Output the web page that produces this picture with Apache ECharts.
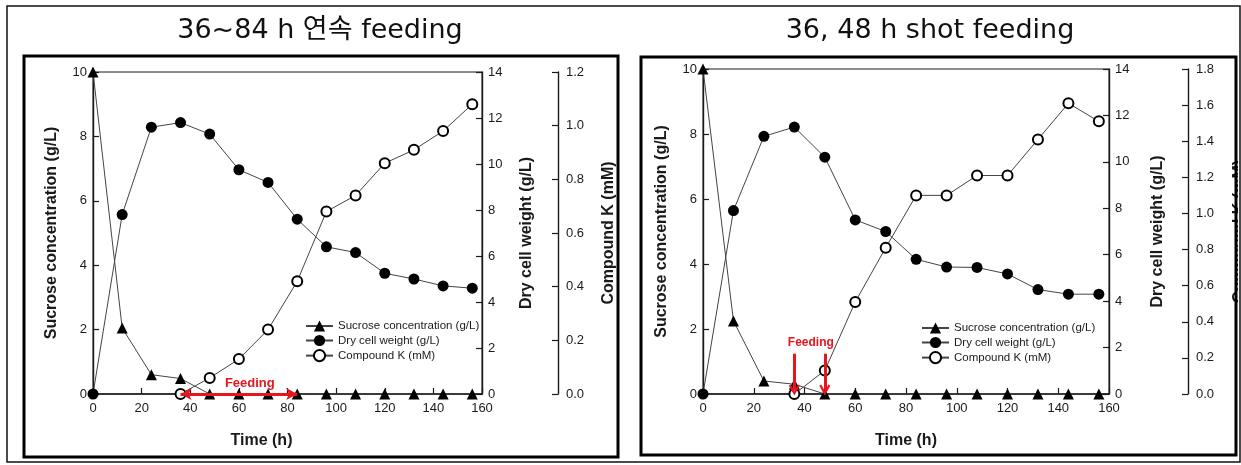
<!DOCTYPE html>
<html>
<head>
<meta charset="utf-8">
<script src="https://cdn.jsdelivr.net/npm/echarts@6/dist/echarts.min.js"></script>
<style>
  html, body { margin: 0; padding: 0; background: #fff; }
  #chart { width: 1241px; height: 465px; }
</style>
</head>
<body>
<div id="chart"></div>
<script>
// Sampling times (h)
const hours = [0, 12, 24, 36, 48, 60, 72, 84, 96, 108, 120, 132, 144, 156];

// 36~84 h continuous feeding
const sucroseCont   = [10, 2.05, 0.6, 0.48, 0, 0, 0, 0, 0, 0, 0, 0, 0, 0];
const dryCellCont   = [0, 7.8, 11.6, 11.8, 11.3, 9.75, 9.2, 7.6, 6.4, 6.15, 5.25, 5.0, 4.7, 4.6];
const compoundKCont = [null, null, null, 0, 0.06, 0.13, 0.24, 0.42, 0.68, 0.74, 0.86, 0.91, 0.98, 1.08];

// 36, 48 h shot feeding
const sucroseShot   = [10, 2.25, 0.4, 0.3, 0, 0, 0, 0, 0, 0, 0, 0, 0, 0];
const dryCellShot   = [0, 7.9, 11.1, 11.5, 10.2, 7.5, 7.0, 5.8, 5.47, 5.45, 5.17, 4.5, 4.3, 4.3];
const compoundKShot = [null, null, null, 0, 0.13, 0.51, 0.81, 1.1, 1.1, 1.21, 1.21, 1.41, 1.61, 1.51];

// Axis ranges [min, max, step]
const timeRange          = [0, 160, 20];
const sucroseRange       = [0, 10, 2];
const dryCellRange       = [0, 14, 2];
const compoundKContRange = [0, 1.2, 0.2];
const compoundKShotRange = [0, 1.8, 0.2];

// Feeding periods
const continuousFeed = [36, 84];
const shotFeeds = [36, 48];

const titles = ['36~84 h 연속 feeding', '36, 48 h shot feeding'];
const names = {
  sucrose: 'Sucrose concentration (g/L)',
  dryCell: 'Dry cell weight (g/L)',
  compoundK: 'Compound K (mM)',
  time: 'Time (h)'
};

const FONT = '"Liberation Sans", Arial, sans-serif';
const RED = '#e5161d';
const INK = '#1a1a1a';

function pairs(values) {
  const out = [];
  hours.forEach((h, i) => { if (values[i] !== null) out.push([h, values[i]]); });
  return out;
}

function xAxisFor(gridIndex, namePad) {
  return {
    type: 'value', gridIndex: gridIndex,
    min: timeRange[0], max: timeRange[1], interval: timeRange[2],
    name: names.time, nameLocation: 'middle', nameGap: 39,
    nameTextStyle: { fontFamily: FONT, fontWeight: 'bold', fontSize: 16, color: INK, padding: namePad },
    axisLine: { show: true, onZero: false, lineStyle: { color: INK, width: 1.6 } },
    axisTick: { show: true, inside: true, length: 6, lineStyle: { color: INK, width: 1.2 } },
    axisLabel: { fontFamily: FONT, fontSize: 13, color: INK, margin: 8 },
    splitLine: { show: false }
  };
}

function yAxisFor(gridIndex, range, opts) {
  return Object.assign({
    type: 'value', gridIndex: gridIndex,
    min: range[0], max: range[1], interval: range[2],
    nameLocation: 'middle', nameRotate: 90,
    nameTextStyle: { fontFamily: FONT, fontWeight: 'bold', fontSize: 16, color: INK },
    axisLine: { show: true, onZero: false, lineStyle: { color: INK, width: 1.4 } },
    axisTick: { show: true, inside: true, length: 6, lineStyle: { color: INK, width: 1.2 } },
    axisLabel: { fontFamily: FONT, fontSize: 13, color: INK, margin: 6 },
    splitLine: { show: false }
  }, opts);
}

const lineStyle = { color: '#444', width: 1 };

function seriesFor(name, values, xi, yi, symbol, size, extra) {
  return Object.assign({
    name: name, type: 'line', xAxisIndex: xi, yAxisIndex: yi,
    data: pairs(values),
    symbol: symbol, symbolSize: size,
    lineStyle: lineStyle,
    itemStyle: { color: '#000', borderColor: '#000', borderWidth: symbol === 'emptyCircle' ? 1.2 : 0 },
    emphasis: { disabled: true },
    animation: false
  }, extra || {});
}

// upward-pointing open chevron, rotated along the arrow by markLine
const chevron = 'path://M5,0 L10,9 L8.3,10 L5,4.4 L1.7,10 L0,9 Z';

const legendNames = ['Sucrose concentration (g/L)', 'Dry cell weight (g/L)', 'Compound K (mM)'];

const legendBase = {
  orient: 'vertical', padding: 0, itemWidth: 27, itemHeight: 14, itemGap: 2.5,
  selectedMode: false, data: legendNames,
  textStyle: { fontFamily: FONT, fontSize: 11.5, color: INK, padding: [0, 0, 0, 0] }
};

const kLabel = { fontFamily: FONT, fontSize: 13, color: INK, margin: 8, formatter: v => v.toFixed(1) };

const gridBase = { show: true, borderColor: INK, borderWidth: 1, backgroundColor: 'transparent',
  containLabel: false, outerBoundsMode: 'none' };

const option = {
  backgroundColor: '#fff',
  animation: false,
  grid: [
    Object.assign({ left: 93, top: 72, width: 389, height: 322 }, gridBase),
    Object.assign({ left: 703, top: 69, width: 406, height: 325 }, gridBase)
  ],
  legend: [
    Object.assign({ left: 305, top: 320 }, legendBase),
    Object.assign({ left: 921, top: 322 }, legendBase)
  ],
  xAxis: [xAxisFor(0, [0, 52, 0, 0]), xAxisFor(1, [0, 0, 0, 0])],
  yAxis: [
    yAxisFor(0, sucroseRange, { position: 'left', name: names.sucrose, nameGap: 33 }),
    yAxisFor(0, dryCellRange, { position: 'right', name: names.dryCell, nameGap: 37 }),
    yAxisFor(0, compoundKContRange, { position: 'right', offset: 76, name: names.compoundK, nameGap: 43, axisLabel: kLabel }),
    yAxisFor(1, sucroseRange, { position: 'left', name: names.sucrose, nameGap: 33 }),
    yAxisFor(1, dryCellRange, { position: 'right', name: names.dryCell, nameGap: 41 }),
    yAxisFor(1, compoundKShotRange, { position: 'right', offset: 79, name: names.compoundK, nameGap: 44, axisLabel: kLabel })
  ],
  series: [
    // continuous feeding panel
    seriesFor(legendNames[2], compoundKCont, 0, 2, 'emptyCircle', 10),
    seriesFor(legendNames[1], dryCellCont, 0, 1, 'circle', 11),
    seriesFor(legendNames[0], sucroseCont, 0, 0, 'triangle', 11, {
      z: 3,
      markLine: {
        silent: true, animation: false,
        symbol: ['arrow', 'arrow'], symbolSize: [9, 11],
        lineStyle: { color: RED, width: 3, type: 'solid' },
        label: { show: false },
        data: [[{ coord: [continuousFeed[0], 0] }, { coord: [continuousFeed[1], 0] }]]
      },
      markPoint: {
        silent: true, animation: false,
        symbol: 'rect', symbolSize: 1, itemStyle: { color: 'rgba(0,0,0,0)' },
        label: { show: true, position: 'inside', offset: [0, -11], formatter: 'Feeding',
          color: RED, fontWeight: 'bold', fontSize: 13, fontFamily: FONT },
        data: [{ coord: [64.5, 0] }]
      }
    }),
    // shot feeding panel
    seriesFor(legendNames[2], compoundKShot, 1, 5, 'emptyCircle', 10),
    seriesFor(legendNames[1], dryCellShot, 1, 4, 'circle', 11),
    seriesFor(legendNames[0], sucroseShot, 1, 3, 'triangle', 11, {
      z: 3,
      markLine: {
        silent: true, animation: false,
        symbol: ['none', chevron], symbolSize: [11, 11],
        lineStyle: { color: RED, width: 3, type: 'solid' },
        label: { show: false },
        data: shotFeeds.map(t => [{ coord: [t, 1.24] }, { coord: [t, 0.12] }])
      },
      markPoint: {
        silent: true, animation: false,
        symbol: 'rect', symbolSize: 1, itemStyle: { color: 'rgba(0,0,0,0)' },
        label: { show: true, position: 'inside', formatter: 'Feeding',
          color: RED, fontWeight: 'bold', fontSize: 12, fontFamily: FONT },
        data: [{ coord: [42.5, 1.57] }]
      }
    })
  ],
  graphic: [
    { type: 'text', z: 50, style: { text: titles[0], x: 320, y: 31, align: 'center', verticalAlign: 'middle',
        font: '27px "DejaVu Sans", "Noto Sans CJK KR", sans-serif', fill: '#111' } },
    { type: 'text', z: 50, style: { text: titles[1], x: 930, y: 31, align: 'center', verticalAlign: 'middle',
        font: '27px "DejaVu Sans", "Noto Sans CJK KR", sans-serif', fill: '#111' } },
    { type: 'rect', z: 60, shape: { x: 1238, y: 0, width: 4, height: 465 }, style: { fill: '#fff' } },
    { type: 'rect', z: 61, shape: { x: 7, y: 6, width: 1233, height: 456 }, style: { fill: 'none', stroke: '#111', lineWidth: 1.5 } },
    { type: 'rect', z: 61, shape: { x: 24, y: 56, width: 594, height: 401 }, style: { fill: 'none', stroke: '#000', lineWidth: 3 } },
    { type: 'rect', z: 61, shape: { x: 641, y: 57, width: 595, height: 398 }, style: { fill: 'none', stroke: '#000', lineWidth: 3 } }
  ]
};

const chart = echarts.init(document.getElementById('chart'), null, { renderer: 'canvas' });
chart.setOption(option);
</script>
</body>
</html>
